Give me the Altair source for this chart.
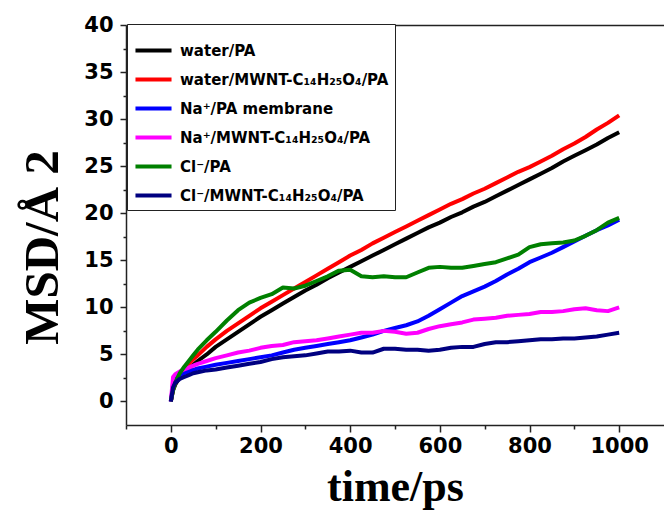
import altair as alt
import pandas as pd

# ---- data ----
time_ps = [0, 5, 10, 20, 30, 40, 50, 60, 80, 100, 125, 150, 175, 200, 225, 250, 275, 300,
           325, 350, 375, 400, 425, 450, 475, 500, 525, 550, 575, 600, 625, 650, 675, 700,
           725, 750, 775, 800, 825, 850, 875, 900, 925, 950, 975, 1000]

water_pa = [0, 1.2, 1.8, 2.6, 3.1, 3.5, 3.9, 4.3, 5.0, 5.8, 6.6, 7.4, 8.2, 9.0, 9.7, 10.4, 11.1, 11.8,
            12.4, 13.1, 13.7, 14.3, 14.9, 15.5, 16.1, 16.7, 17.3, 17.9, 18.5, 19.0, 19.6, 20.1, 20.7, 21.2,
            21.8, 22.4, 23.0, 23.6, 24.2, 24.8, 25.5, 26.1, 26.7, 27.3, 28.0, 28.6]

water_mwnt = [0, 1.3, 2.0, 2.9, 3.5, 4.0, 4.5, 4.9, 5.8, 6.6, 7.5, 8.3, 9.1, 9.9, 10.6, 11.3, 12.0, 12.7,
              13.4, 14.1, 14.8, 15.5, 16.1, 16.8, 17.4, 18.0, 18.6, 19.2, 19.8, 20.4, 21.0, 21.5, 22.1, 22.6,
              23.2, 23.8, 24.4, 24.9, 25.5, 26.1, 26.8, 27.4, 28.1, 28.9, 29.6, 30.4]

na_pa = [0, 1.8, 2.4, 2.8, 3.0, 3.2, 3.35, 3.5, 3.7, 3.9, 4.1, 4.3, 4.5, 4.7, 4.9, 5.2, 5.5, 5.7,
         5.9, 6.1, 6.3, 6.5, 6.8, 7.1, 7.5, 7.8, 8.1, 8.5, 9.1, 9.8, 10.5, 11.2, 11.7, 12.2,
         12.8, 13.5, 14.1, 14.8, 15.3, 15.8, 16.4, 17.0, 17.6, 18.2, 18.7, 19.3]

na_mwnt = [0, 2.6, 2.9, 3.2, 3.4, 3.6, 3.8, 4.0, 4.3, 4.6, 4.9, 5.2, 5.4, 5.7, 5.9, 6.0, 6.3, 6.4,
           6.5, 6.7, 6.9, 7.1, 7.3, 7.3, 7.5, 7.4, 7.2, 7.3, 7.7, 8.0, 8.2, 8.4, 8.7, 8.8,
           8.9, 9.1, 9.2, 9.3, 9.5, 9.5, 9.6, 9.8, 9.9, 9.7, 9.6, 10.0]

cl_pa = [0, 1.2, 2.0, 3.0, 3.7, 4.3, 4.9, 5.5, 6.5, 7.4, 8.6, 9.7, 10.5, 11.0, 11.4, 12.1, 12.0, 12.3,
         12.8, 13.3, 13.9, 14.0, 13.3, 13.2, 13.3, 13.2, 13.2, 13.7, 14.2, 14.3, 14.2, 14.2, 14.4, 14.6,
         14.8, 15.2, 15.6, 16.4, 16.7, 16.8, 16.9, 17.1, 17.6, 18.2, 19.0, 19.5]

cl_mwnt = [0, 1.5, 2.0, 2.4, 2.6, 2.8, 3.0, 3.1, 3.3, 3.4, 3.6, 3.8, 4.0, 4.2, 4.5, 4.7, 4.8, 4.9,
           5.1, 5.3, 5.3, 5.4, 5.2, 5.2, 5.6, 5.6, 5.5, 5.5, 5.4, 5.5, 5.7, 5.8, 5.8, 6.1,
           6.3, 6.3, 6.4, 6.5, 6.6, 6.6, 6.7, 6.7, 6.8, 6.9, 7.1, 7.3]

series_names = [
    "water/PA",
    "water/MWNT-C\u2081\u2084H\u2082\u2085O\u2084/PA",
    "Na\u207a/PA membrane",
    "Na\u207a/MWNT-C\u2081\u2084H\u2082\u2085O\u2084/PA",
    "Cl\u207b/PA",
    "Cl\u207b/MWNT-C\u2081\u2084H\u2082\u2085O\u2084/PA",
]
series_values = [water_pa, water_mwnt, na_pa, na_mwnt, cl_pa, cl_mwnt]
series_colors = ["#000000", "#ff0000", "#0000ff", "#ff00ff", "#008000", "#000080"]

x_major = [0, 200, 400, 600, 800, 1000]
x_minor = [-100, 100, 300, 500, 700, 900]
y_major = [0, 5, 10, 15, 20, 25, 30, 35, 40]
y_minor = [2.5, 7.5, 12.5, 17.5, 22.5, 27.5, 32.5, 37.5]

rows = []
for order, (name, vals) in enumerate(zip(series_names, series_values)):
    for t, v in zip(time_ps, vals):
        rows.append({"time": t, "msd": v, "series": name, "order": order})
df = pd.DataFrame(rows)

x_scale = alt.Scale(domain=[-100, 1100], nice=False, zero=False)
y_scale = alt.Scale(domain=[-2.5, 40], nice=False, zero=False)

lines = alt.Chart(df).mark_line(strokeWidth=4, strokeJoin="round").encode(
    x=alt.X("time:Q", scale=x_scale,
            axis=alt.Axis(orient="bottom", values=x_major, format="d", tickSize=7,
                          labelPadding=3, title="time/ps", titleY=75, titleFontSize=44,
                          titleBaseline="alphabetic", titleAnchor="middle")),
    y=alt.Y("msd:Q", scale=y_scale,
            axis=alt.Axis(orient="left", values=y_major, format="d", tickSize=6,
                          labelPadding=7, title="MSD/Å 2", titleX=-69, titleY=222,
                          titleFontSize=49,
                          titleAngle=270, titleAlign="center", titleBaseline="alphabetic")),
    color=alt.Color("series:N", sort=series_names,
                    scale=alt.Scale(domain=series_names, range=series_colors),
                    legend=alt.Legend(orient="none", legendX=1, legendY=-1, title=None,
                                      fillColor="white", strokeColor="#222",
                                      padding=6, symbolType="stroke", symbolStrokeWidth=4,
                                      symbolSize=1300, labelFont="DejaVu Sans",
                                      labelFontWeight="bold", labelFontSize=15,
                                      labelColor="black", labelLimit=400, labelOffset=6,
                                      rowPadding=0)),
    detail="order:O",
)

minor = alt.Chart(df).mark_point(opacity=0).encode(
    x=alt.X("time:Q", scale=x_scale,
            axis=alt.Axis(orient="bottom", values=x_minor, labels=False, domain=False,
                          tickSize=4, title=None)),
    y=alt.Y("msd:Q", scale=y_scale,
            axis=alt.Axis(orient="left", values=y_minor, labels=False, domain=False,
                          tickSize=3, title=None)),
)

top = alt.Chart(df).mark_point(opacity=0).encode(
    x=alt.X("time:Q", scale=x_scale,
            axis=alt.Axis(orient="top", labels=False, ticks=False, domain=True, title=None)),
    y=alt.Y("msd:Q", scale=y_scale, axis=None),
)

chart = alt.layer(lines, minor, top).resolve_axis(x="independent", y="independent").properties(
    width=538, height=400,
    padding={"left": 126, "top": 25, "right": 0, "bottom": 87},
    autosize=alt.AutoSizeParams(type="none"),
).configure_view(stroke=None).configure_axis(
    labelFont="DejaVu Sans", labelFontWeight="bold", labelFontSize=21, labelColor="black",
    domainColor="#222", domainWidth=1.5, tickColor="#222", tickWidth=1.5, grid=False,
    titleFont="Liberation Serif", titleFontWeight="bold", titleFontSize=42, titleColor="black",
)

chart.save("out.html", embed_options={"renderer": "svg", "actions": False})
